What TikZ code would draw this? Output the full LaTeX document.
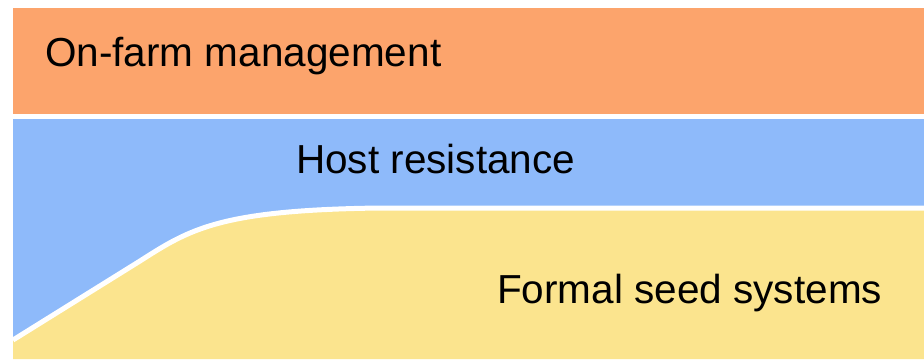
\documentclass[tikz,border=0pt]{standalone}
\usepackage{fontspec}
\setmainfont{Liberation Sans}
\definecolor{farmorange}{RGB}{252,164,108}
\definecolor{hostblue}{RGB}{142,186,250}
\definecolor{seedyellow}{RGB}{251,228,142}
\begin{document}
\begin{tikzpicture}[x=1pt,y=-1pt,
    label/.style={anchor=base west,inner sep=0pt,font=\fontsize{40.5}{48}\selectfont}]
  \useasboundingbox (0,0) rectangle (924,359);
  \fill[farmorange] (13,8) rectangle (924,114);
  \fill[hostblue] (13,119) rectangle (924,359);
  \fill[seedyellow] (13,340) -- (140,261) .. controls (190,229) and (220,210) .. (380,208)
    -- (924,208) -- (924,359) -- (13,359) -- cycle;
  \draw[white,line width=5pt] (13,340) -- (140,261) .. controls (190,229) and (220,210) .. (380,208)
    -- (924,208);
  \draw
    (45,66) node[label] (farm) {On-farm management}
    (296,173) node[label] (host) {Host resistance}
    (497,303) node[label] (seed) {Formal seed systems};
\end{tikzpicture}
\end{document}
